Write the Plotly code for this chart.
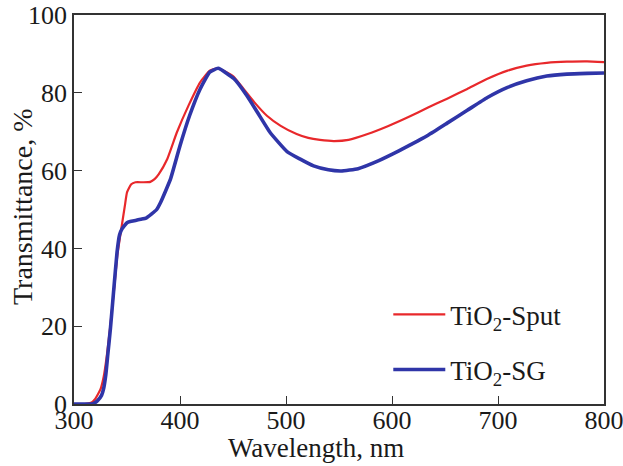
import plotly.graph_objects as go

# TiO2-Sput (red)
wl_sput = [300, 310, 316, 320, 325, 328, 331, 334, 338, 341, 345, 348, 350, 354, 358, 365, 372,
           376, 380, 388, 397, 408, 419, 428, 436, 450, 460, 470, 482, 495, 510, 521, 532, 545, 559, 577,
           596, 615, 634, 652, 671, 690, 709, 727, 746, 765, 784, 800]
t_sput = [0.0, 0.0, 0.3, 1.3, 3.8, 7.0, 12.5, 19.5, 30.0, 38.5, 45.7, 51.0, 54.4, 56.5, 57.0, 57.0, 57.1,
          57.8, 59.1, 63.0, 69.8, 76.7, 82.7, 85.7, 86.3, 84.3, 81.0, 77.6, 74.1, 71.5, 69.4, 68.4, 67.9, 67.6, 67.9, 69.4,
          71.4, 73.7, 76.2, 78.5, 81.0, 83.6, 85.7, 87.0, 87.7, 88.0, 88.1, 87.9]

# TiO2-SG (blue)
wl_sg = [300, 310, 318, 322, 326, 328, 330, 332, 334.4, 337.5, 340.6, 343, 345.3, 350, 353, 358, 363,
         368, 373, 378, 382, 386, 391, 400, 409, 419, 428, 436, 451, 463, 473, 485, 501, 513, 526, 540,
         552, 568, 587, 606, 624, 634, 652, 671, 690, 709, 727, 746, 765, 784, 800]
t_sg = [0.0, 0.0, 0.1, 0.8, 2.2, 4.0, 7.5, 13.0, 19.5, 29.4, 39.0, 43.5, 45.0, 46.6, 46.9, 47.2, 47.5,
        47.8, 48.8, 50.0, 52.0, 54.5, 57.8, 66.4, 74.1, 81.0, 85.3, 86.3, 83.6, 79.3, 75.0, 69.8, 64.9, 63.0, 61.2, 60.2,
        59.9, 60.5, 62.5, 65.0, 67.6, 69.1, 72.2, 75.5, 78.8, 81.4, 83.1, 84.3, 84.8, 85.0, 85.1]

x_ticks = [300, 400, 500, 600, 700, 800]
y_ticks = [0, 20, 40, 60, 80, 100]

FONT = "Liberation Serif"
TXT = "#1a1a1a"

fig = go.Figure()
fig.add_trace(go.Scatter(x=wl_sput, y=t_sput, mode="lines", name="TiO<sub>2</sub>-Sput",
                         legendgroup="a",
                         line=dict(color="#e8282b", width=2.2, shape="spline", smoothing=0.4)))
fig.add_trace(go.Scatter(x=wl_sg, y=t_sg, mode="lines", name="TiO<sub>2</sub>-SG",
                         legendgroup="b",
                         line=dict(color="#2f35a8", width=3.6, shape="spline", smoothing=0.4)))

axis_common = dict(showline=True, linecolor="#333333", linewidth=1.5, mirror=True,
                   ticks="inside", ticklen=8, tickwidth=1.2, tickcolor="#333333",
                   showgrid=False, zeroline=False, ticklabeloverflow="allow",
                   automargin=False,
                   tickfont=dict(family=FONT, size=26, color=TXT))

fig.update_xaxes(range=[300, 800], tickvals=x_ticks, ticktext=[str(v) for v in x_ticks],
                 ticklabelstandoff=-8, **axis_common)
fig.update_yaxes(range=[0, 100], tickvals=y_ticks, ticktext=[str(v) for v in y_ticks],
                 **axis_common)

fig.add_annotation(text="Wavelength, nm", xref="paper", yref="paper",
                   x=(316 - 74) / 530, y=-(448 - 404) / 389, xanchor="center", yanchor="middle",
                   showarrow=False, font=dict(family=FONT, size=27, color=TXT))
fig.add_annotation(text="Transmittance, %", xref="paper", yref="paper", textangle=-90,
                   x=-(74 - 22) / 530, y=(404 - 207) / 389, xanchor="center", yanchor="middle",
                   showarrow=False, font=dict(family=FONT, size=28, color=TXT))

fig.update_layout(
    width=623, height=466,
    margin=dict(l=74, r=19, t=15, b=62),
    plot_bgcolor="white", paper_bgcolor="white",
    font=dict(family=FONT, size=26, color=TXT),
    legend=dict(x=0.593, y=0.292, xanchor="left", yanchor="top",
                bgcolor="rgba(0,0,0,0)", tracegroupgap=17,
                font=dict(family=FONT, size=27, color=TXT),
                itemwidth=52, traceorder="grouped"),
    showlegend=True,
)

fig.write_html("out.html")
